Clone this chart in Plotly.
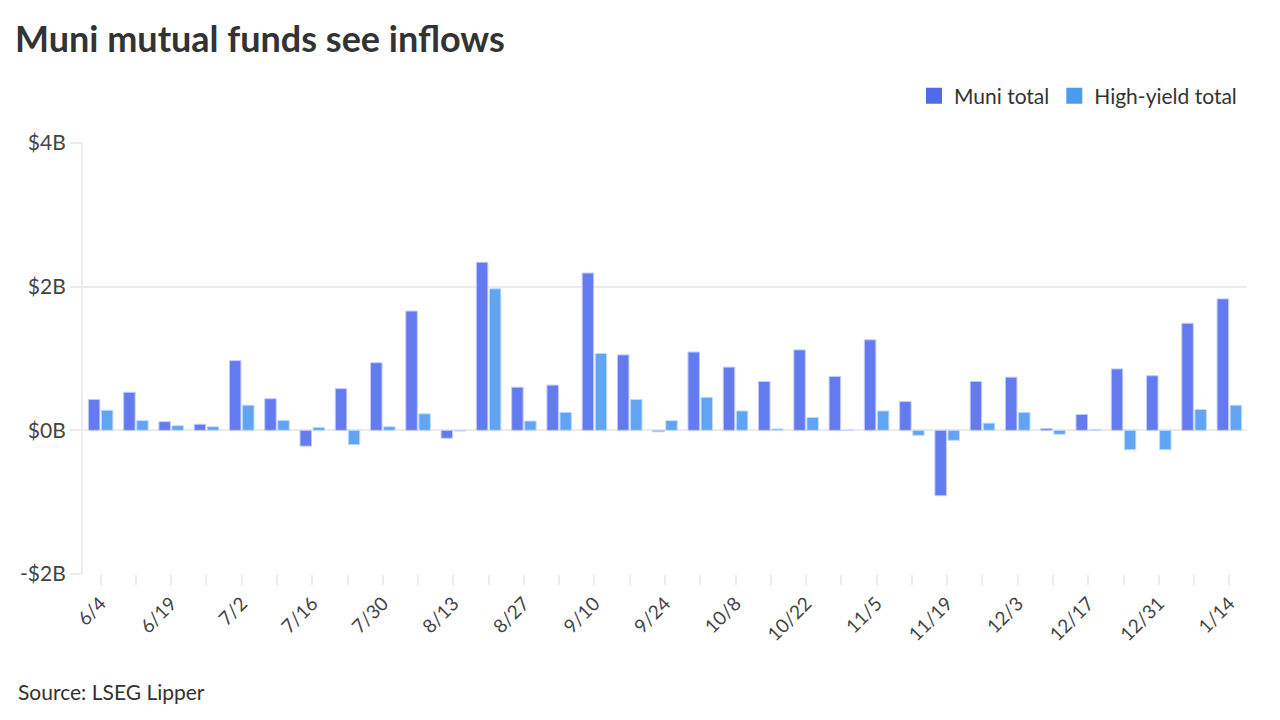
import plotly.graph_objects as go

weeks = ["6/4", "6/11", "6/19", "6/25", "7/2", "7/9", "7/16", "7/23", "7/30", "8/6",
         "8/13", "8/20", "8/27", "9/3", "9/10", "9/17", "9/24", "10/1", "10/8", "10/15",
         "10/22", "10/29", "11/5", "11/12", "11/19", "11/26", "12/3", "12/10", "12/17",
         "12/24", "12/31", "1/7", "1/14"]
labeled_weeks = ["6/4", "6/19", "7/2", "7/16", "7/30", "8/13", "8/27", "9/10", "9/24",
                 "10/8", "10/22", "11/5", "11/19", "12/3", "12/17", "12/31", "1/14"]

# Weekly flows, $ billions
muni_total = [0.43, 0.53, 0.12, 0.085, 0.97, 0.44, -0.22, 0.58, 0.94, 1.66,
              -0.11, 2.34, 0.60, 0.63, 2.19, 1.05, -0.02, 1.09, 0.88, 0.68,
              1.12, 0.75, 1.26, 0.40, -0.91, 0.68, 0.74, 0.025, 0.22, 0.855,
              0.76, 1.49, 1.83]
high_yield_total = [0.28, 0.135, 0.065, 0.05, 0.35, 0.14, 0.04, -0.20, 0.05, 0.23,
                    -0.01, 1.97, 0.13, 0.25, 1.07, 0.43, 0.135, 0.46, 0.27, 0.02,
                    0.18, 0.005, 0.27, -0.07, -0.14, 0.10, 0.25, -0.055, 0.01, -0.27,
                    -0.27, 0.29, 0.35]

y_ticks = [-2, 0, 2, 4]
y_tick_labels = ["-$2B", "$0B", "$2B", "$4B"]

FONT = "Lato, 'Noto Sans', sans-serif"
GRID = "#ebebeb"
MUNI_COLOR = "#637BEF"
HY_COLOR = "#62A4F4"

fig = go.Figure()
fig.add_trace(go.Bar(
    x=weeks, y=muni_total, name="Muni total", showlegend=False,
    marker=dict(color=MUNI_COLOR, line=dict(color="#C3CCF8", width=1)),
))
fig.add_trace(go.Bar(
    x=weeks, y=high_yield_total, name="High-yield total", showlegend=False,
    marker=dict(color=HY_COLOR, line=dict(color="#C0DCFB", width=1)),
))
# legend entries with larger square swatches
fig.add_trace(go.Scatter(x=[None], y=[None], mode="markers", name="Muni total",
                         marker=dict(symbol="square", size=17, color="#4F6AEC")))
fig.add_trace(go.Scatter(x=[None], y=[None], mode="markers", name="High-yield total",
                         marker=dict(symbol="square", size=17, color="#4C9BF1")))

fig.update_layout(
    width=1280, height=720,
    paper_bgcolor="white", plot_bgcolor="white",
    margin=dict(l=83, r=33, t=143, b=146),
    barmode="group", bargap=0.26, bargroupgap=0.12,
    font=dict(family=FONT, color="#333333"),
    title=dict(text="<b>Muni mutual funds see inflows</b>",
               xref="container", x=15 / 1280, xanchor="left",
               yref="container", y=1 - 39 / 720, yanchor="middle",
               font=dict(size=36, family=FONT, color="#333333")),
    legend=dict(orientation="h", xref="container", x=1 - 38 / 1280, xanchor="right",
                yref="container", y=1 - 96 / 720, yanchor="middle",
                font=dict(size=21, color="#333333"), traceorder="normal",
                itemwidth=30, tracegroupgap=0),
    showlegend=True,
)

fig.update_xaxes(
    type="category",
    tickmode="array", tickvals=weeks,
    ticktext=[w if w in labeled_weeks else "" for w in weeks],
    tickangle=-45, tickfont=dict(size=19, color="#444444"),
    ticks="outside", ticklen=10, tickcolor=GRID, tickwidth=2,
    showgrid=False, showline=False, zeroline=False,
)
fig.update_yaxes(
    range=[-2, 4], tickmode="array", tickvals=y_ticks, ticktext=y_tick_labels,
    tickfont=dict(size=21, color="#444444"),
    ticks="outside", ticklen=11, tickcolor=GRID, tickwidth=2,
    showgrid=True, gridcolor=GRID, gridwidth=2,
    zeroline=False, showline=True, linecolor=GRID, linewidth=2,
)

fig.add_annotation(text="Source: LSEG Lipper", xref="paper", yref="paper",
                   x=-(83 - 16) / (1280 - 83 - 33), y=-(691 - 574) / (574 - 143),
                   xanchor="left", yanchor="middle", showarrow=False,
                   font=dict(size=21, family=FONT, color="#333333"))

fig.write_html("out.html", config={"displayModeBar": False},
               post_script="document.body.style.margin='0';document.body.style.overflow='hidden';")
